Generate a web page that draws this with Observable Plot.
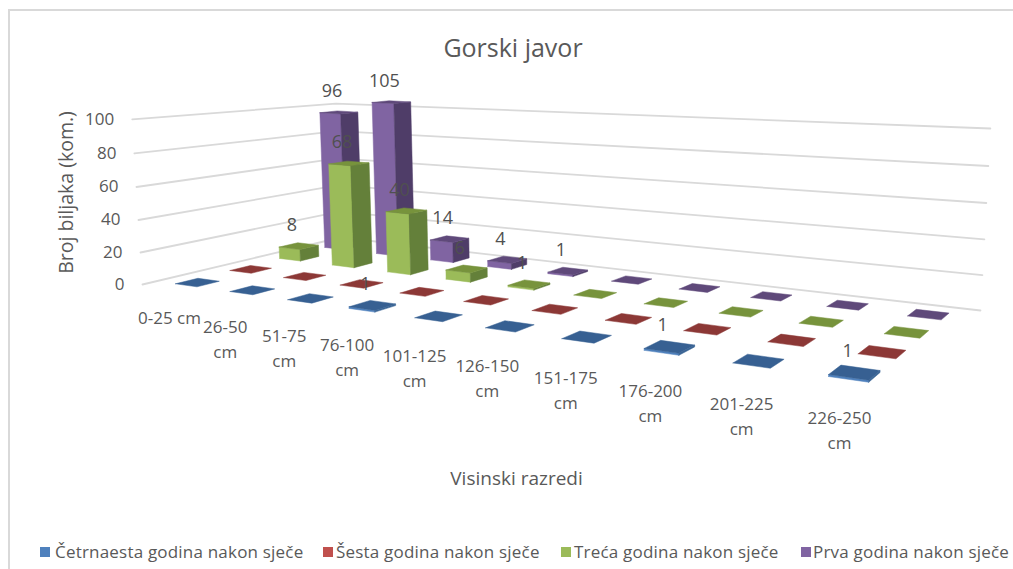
<!DOCTYPE html>
<html><head><meta charset="utf-8">
<script src="https://cdn.jsdelivr.net/npm/d3@7"></script>
<script src="https://cdn.jsdelivr.net/npm/@observablehq/plot@0.6"></script>
<style>
html,body{margin:0;padding:0;background:#fff}
#page{position:relative;width:1013px;height:569px;overflow:hidden;font-family:"Open Sans",sans-serif;color:#595959}
#title{position:absolute;left:0;width:1026px;top:29px;text-align:center;font-size:25px;line-height:36px}
#chart{position:absolute;left:0;top:66px}
#legend{position:absolute;top:541px;left:0;font-size:17px;letter-spacing:.2px;line-height:22px;white-space:nowrap}
#legend span{position:absolute;top:0}
#legend i{position:absolute;top:6px;width:10px;height:10px}
#frame{position:absolute;left:8px;top:9px;width:1100px;height:1100px;border:2px solid #d9d9d9;pointer-events:none}
</style></head><body>
<div id="page"><div id="frame"></div><div id="title">Gorski javor</div><div id="chart"></div><div id="legend"></div></div>
<script>
const categories=["0-25 cm","26-50 cm","51-75 cm","76-100 cm","101-125 cm","126-150 cm","151-175 cm","176-200 cm","201-225 cm","226-250 cm"];
const seriesNames=["Četrnaesta godina nakon sječe","Šesta godina nakon sječe","Treća godina nakon sječe","Prva godina nakon sječe"];
const cetrnaesta=[0,0,0,1,0,0,0,1,0,1];
const sesta=[0,0,0,0,0,0,0,0,0,0];
const treca=[8,68,40,6,1,0,0,0,0,0];
const prva=[96,105,14,4,1,0,0,0,0,0];
const seriesValues=[cetrnaesta,sesta,treca,prva];
const yTicks=[0,20,40,60,80,100];
const frontColors=["#4f81bd","#c0504d","#9bbb59","#8064a2"];
const sideColors=["#3a6595","#953735","#64803a","#4f3d68"];
const topColors=["#376092","#8c3836","#77933c","#5f497a"];
const xTitle="Visinski razredi",yTitle="Broj biljaka (kom.)";

const vp=[590,7500];
// A perspective floor: four corners (u,t = 0..1) -> picture.
// The height scale is linear over the floor so that lines stay straight.
function perspective(A,D,C,B,riseScale){
  const dx1=D[0]-C[0],dx2=B[0]-C[0],sx=A[0]-D[0]+C[0]-B[0];
  const dy1=D[1]-C[1],dy2=B[1]-C[1],sy=A[1]-D[1]+C[1]-B[1];
  const det=dx1*dy2-dx2*dy1;
  const g=(sx*dy2-dx2*sy)/det,h=(dx1*sy-sx*dy1)/det;
  const a=D[0]-A[0]+g*D[0],b=B[0]-A[0]+h*B[0];
  const d=D[1]-A[1]+g*D[1],e=B[1]-A[1]+h*B[1];
  const [kA,kB,kC]=riseScale;
  const KA=kA,KB=kB*(1+h),KC=kC==null?KB:kC*(1+g+h);
  const K0=kA==null?KB:KA;
  const Ku=kA==null?0:KC-KB,Kt=kA==null?0:KB-KA;
  return (u,t,v=0)=>{
    const w=g*u+h*t+1;
    const x=(a*u+b*t+A[0])/w,y=(d*u+e*t+A[1])/w;
    const rise=v*(1+v*0.0004)*(K0+Ku*u+Kt*t)/w;
    return [x-(vp[0]-x)*rise/(vp[1]-y),y-rise];
  };
}
// walls: u,t span the whole floor; bars: u,t span the bar centres
const wall=perspective([142,284],[884,392],[980,310],[340,237],[1.587,1.288,1.75]);
const barFloor=perspective([197,282],[854,374],[928,314],[343,246],[null,1.345,null]);
const place=(c,s,v=0)=>barFloor((c-0.14*Math.sin(Math.PI*c/9)*(1-s/6))/9,s/3,v);

const half=0.2;
const faces=[];
let id=0;
function addFace(pts,color){id++;for(const p of [...pts,pts[0]]){const q=place(...p);faces.push({id,x:q[0],y:q[1],color});}}
for(let s=3;s>=0;s--)for(let c=0;c<categories.length;c++){
  const v=seriesValues[s][c],c1=c-half,c2=c+half,s1=s-half,s2=s+half;
  if(v>0){
    addFace([[c1,s1,0],[c2,s1,0],[c2,s1,v],[c1,s1,v]],frontColors[s]);
    addFace([[c2,s1,0],[c2,s2,0],[c2,s2,v],[c2,s1,v]],sideColors[s]);
  }
  addFace([[c1,s1,v],[c2,s1,v],[c2,s2,v],[c1,s2,v]],topColors[s]);
}
const grid=[];
for(const v of yTicks)for(const p of [[0,0],[0,1],[1,1]]){const q=wall(p[0],p[1],v);grid.push({v,x:q[0],y:q[1]});}
const tickLabels=yTicks.map(v=>{const q=wall(0,0,v);return{x:q[0]-18,y:q[1],t:String(v)}});
const valueLabels=[];
seriesValues.forEach((arr,s)=>arr.forEach((v,c)=>{if(v>0){const q=place(c,s,v);valueLabels.push({x:q[0]-7,y:q[1]-21,t:String(v)})}}));
const catLabels=categories.map((t,c)=>{const q=place(c,0,0);return{x:q[0]-28+13*c/9-2*Math.sin(Math.PI*c/9),y:q[1]+36+8*c/9,t:c===0?t:t.replace(" ","\n")}});
const svgTop=66,H=454;
const plot=Plot.plot({width:1013,height:H,margin:0,
  x:{domain:[0,1013],range:[0,1013],axis:null},
  y:{domain:[svgTop,svgTop+H],range:[0,H],axis:null},
  color:{type:"identity"},
  marks:[
    Plot.line(grid,{x:"x",y:"y",z:"v",stroke:"#d9d9d9",strokeWidth:1.8}),
    Plot.line(faces,{x:"x",y:"y",z:"id",fill:"color",stroke:"color",strokeWidth:0.5,curve:"linear"}),
    Plot.text(tickLabels,{x:"x",y:"y",text:"t",textAnchor:"end",fontSize:17,fill:"#595959"}),
    Plot.text(valueLabels,{x:"x",y:"y",text:"t",fontSize:18,fill:"#505050"}),
    Plot.text(catLabels,{x:"x",y:"y",text:"t",fontSize:17,lineHeight:1.47,lineAnchor:"top",dy:-12,fill:"#595959"}),
    Plot.text([yTitle],{x:()=>66,y:()=>192,text:d=>d,rotate:-90,fontSize:19.5,fill:"#595959"}),
    Plot.text([xTitle],{x:()=>516,y:()=>478,text:d=>d,fontSize:19,fill:"#595959"})
  ]});
document.getElementById("chart").append(plot);
plot.style.fontFamily='"Open Sans",sans-serif';
const legendSlots=[[40,55],[323,336],[561,574],[801,813]];
const lg=document.getElementById("legend");
seriesNames.forEach((n,i)=>{
  const sw=document.createElement("i");sw.style.left=legendSlots[i][0]+"px";sw.style.background=frontColors[i];lg.append(sw);
  const sp=document.createElement("span");sp.style.left=legendSlots[i][1]+"px";sp.textContent=n;lg.append(sp);
});
</script></body></html>
